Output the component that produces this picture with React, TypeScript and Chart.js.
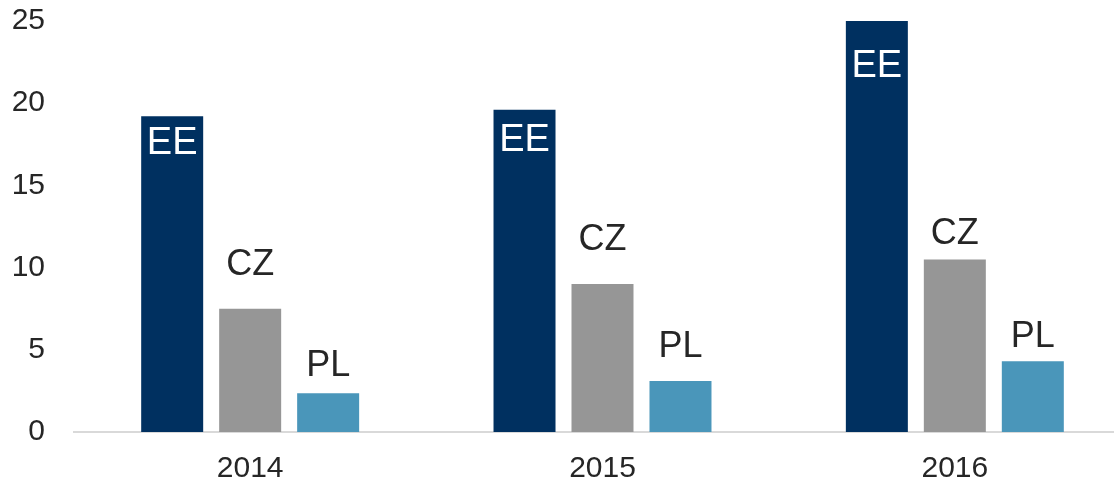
import React, { useEffect, useRef } from "react";
import { Chart, registerables } from "chart.js";

Chart.register(...registerables);

const categories = ["2014", "2015", "2016"];
const seriesNames = ["EE", "CZ", "PL"];
const eeValues = [19.2, 19.6, 25.0];
const czValues = [7.5, 9.0, 10.5];
const plValues = [2.35, 3.1, 4.3];
const yTicks = [0, 5, 10, 15, 20, 25];

// label placement (px, center of text relative to bar top; positive = inside bar)
const labelOffsets = [
  [27, 31, 46],
  [-44, -44, -25],
  [-27, -34, -24],
];
const labelColors = ["#ffffff", "#262626", "#262626"];
const labelSizes = [38, 36, 36];
const barColors = ["#003060", "#969696", "#4a96ba"];

const barLabelPlugin = {
  id: "barLabels",
  afterDatasetsDraw(chart: any) {
    const ctx = chart.ctx;
    ctx.save();
    ctx.textAlign = "center";
    ctx.textBaseline = "middle";
    chart.data.datasets.forEach((ds: any, di: number) => {
      const meta = chart.getDatasetMeta(di);
      meta.data.forEach((bar: any, i: number) => {
        ctx.font = `${labelSizes[di]}px "Liberation Sans", Arial, sans-serif`;
        ctx.fillStyle = labelColors[di];
        ctx.fillText(seriesNames[di], bar.x, bar.y + labelOffsets[di][i]);
      });
    });
    ctx.restore();
  },
};

export default function App() {
  const ref = useRef<HTMLCanvasElement>(null);
  useEffect(() => {
    if (!ref.current) return;
    const values = [eeValues, czValues, plValues];
    const chart = new Chart(ref.current, {
      type: "bar",
      data: {
        labels: categories,
        datasets: seriesNames.map((name, i) => ({
          label: name,
          data: values[i],
          backgroundColor: barColors[i],
          borderWidth: 0,
          categoryPercentage: 0.664,
          barPercentage: 0.795,
        })),
      },
      options: {
        animation: false,
        responsive: false,
        maintainAspectRatio: false,
        layout: { padding: { top: 21, left: 0, right: 0, bottom: 0 } },
        plugins: {
          legend: { display: false },
          tooltip: { enabled: false },
        },
        scales: {
          x: {
            afterFit(scale: any) {
              scale.height = 51;
              scale.paddingLeft = 0;
              scale.paddingRight = 0;
            },
            grid: { display: false, drawTicks: false },
            border: { display: true, color: "#d9d9d9", width: 2 },
            ticks: {
              color: "#262626",
              padding: 19,
              font: { size: 30, family: '"Liberation Sans", Arial, sans-serif' },
            },
          },
          y: {
            min: 0,
            max: 25,
            afterFit(scale: any) {
              scale.width = 74;
              scale.paddingTop = 0;
              scale.paddingBottom = 0;
            },
            afterBuildTicks(scale: any) {
              scale.ticks = yTicks.map((v) => ({ value: v }));
            },
            grid: { display: false, drawTicks: false },
            border: { display: false },
            ticks: {
              color: "#262626",
              padding: 29,
              font: { size: 30, family: '"Liberation Sans", Arial, sans-serif' },
            },
          },
        },
      },
      plugins: [barLabelPlugin],
    });
    return () => chart.destroy();
  }, []);
  return (
    <div
      style={{
        position: "fixed",
        left: 0,
        top: 0,
        width: 1114,
        height: 483,
        overflow: "hidden",
        background: "#fff",
      }}
    >
      <canvas ref={ref} width={1131} height={483} style={{ display: "block" }} />
    </div>
  );
}
